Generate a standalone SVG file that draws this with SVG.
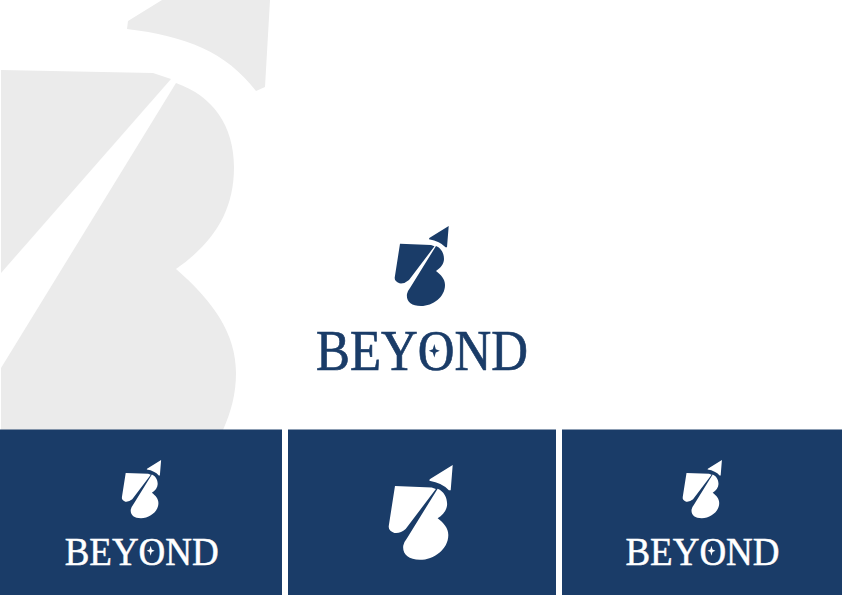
<svg xmlns="http://www.w3.org/2000/svg" width="842" height="595" viewBox="0 0 842 595">
<style>
.bg{fill:#ffffff}.wm{fill:#ebebeb}.panel{fill:#1a3c68}
.navy{fill:#1a3c68;stroke:#1a3c68}.white{fill:#ffffff;stroke:#ffffff}
.word{font-family:"Liberation Serif","Times New Roman",serif;font-size:56px;stroke-width:.7px}
.shape{stroke:none}
</style>
<defs>
<g id="mark" class="shape">
<path d="M448.7 226L447 247.3L445.5 247.3Q440 241 429 239.2L429.3 238Z"/>
<path d="M400 243.8L431 245L434.5 246.3L409 280Q404.5 284 399.5 283.3Q394 281.5 394.8 277Z"/>
<path d="M436 246C441 248 444 253 444 259C444 264 440.5 268 436 271C441 275 445 279 445 285C445 297 433 306 421 306C411 306 406 301 407 294Q407.5 291 410 288Z"/>
</g>
<g id="logo">
<use href="#mark"/>
<text class="word" x="316" y="370" textLength="212" lengthAdjust="spacingAndGlyphs">BEYOND</text>
<path class="shape" d="M434.3 344L435.8 349.2L439.8 350.8L435.8 352.4L434.3 357.6L432.8 352.4L428.8 350.8L432.8 349.2Z"/>
</g>
</defs>
<rect class="bg" width="842" height="595"/>
<g id="watermark" class="wm">
<path d="M162 0L270 0L265 87L256 91C226 52 186 36 127 29L128 21Z"/>
<path d="M1 70L153 73L171 79L1 273Z"/>
<path d="M176 83C213 96 234 126 234 167C234 212 213 243 176 269C214 302 236 334 236 373C236 394 231 412 223 430L1 430L1 368Z"/>
</g>
<g id="panel-left"><rect class="panel" x="0" y="429.5" width="282" height="165.5"/>
<use href="#logo" class="white" transform="translate(141.7 460) scale(.727) translate(-422 -226)"/></g>
<g id="panel-middle"><rect class="panel" x="288" y="429.5" width="268" height="165.5"/>
<use href="#mark" class="white" transform="translate(452.7 465) scale(1.185) translate(-448.7 -226)"/></g>
<g id="panel-right"><rect class="panel" x="562" y="429.5" width="280" height="165.5"/>
<use href="#logo" class="white" transform="translate(702.5 460) scale(.727) translate(-422 -226)"/></g>
<g id="main-logo" class="navy"><use href="#logo"/></g>
<g id="connectors"/>
</svg>
